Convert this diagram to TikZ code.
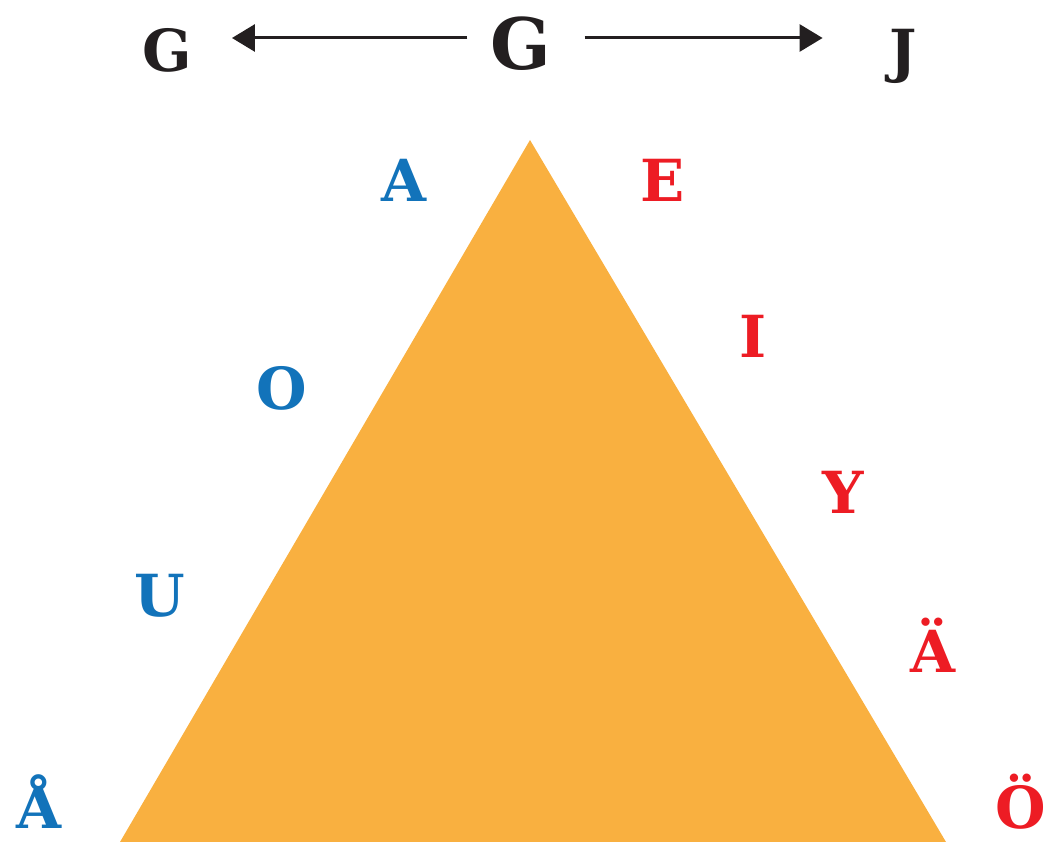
\documentclass[tikz,border=0pt]{standalone}
\usepackage{fontspec}
\setmainfont{DejaVu Serif}
\usetikzlibrary{arrows.meta}
\definecolor{tri}{RGB}{249,176,64}
\definecolor{vblue}{RGB}{18,115,186}
\definecolor{vred}{RGB}{237,28,36}
\definecolor{ink}{RGB}{35,31,32}
\begin{document}
\begin{tikzpicture}[x=1pt,y=-1pt,
  lt/.style={font=\fontsize{58}{58}\selectfont\bfseries, anchor=base, inner sep=0pt},
  big/.style={font=\fontsize{71}{71}\selectfont\bfseries},
  back/.style={lt, text=vblue},
  front/.style={lt, text=vred},
  arr/.style={draw=ink, line width=3pt, -{Triangle[length=23pt,width=27pt]}}
]
\useasboundingbox (0,0) rectangle (1048,842);
\fill[tri] (530,140) -- (946,842) -- (120,842) -- cycle;
% top row
\node[lt, text=ink] (gl) at (167,72) {G};
\node[lt, big, text=ink] (gc) at (521,70) {G};
\node[lt, text=ink] (j) at (903,72) {J};
\coordinate (ay) at (0,38);
\draw[arr, shorten <=23pt, shorten >=40pt] (gc.west |- ay) -- (gl.east |- ay);
\draw[arr, shorten <=33pt, shorten >=66.5pt] (gc.east |- ay) -- (j.west |- ay);
% back vowels
\node[back] (va) at (404,202) {A};
\node[back] (vo) at (282,409) {O};
\node[back] (vu) at (160,616) {U};
\node[back] (vaa) at (39,828) {Å};
% front vowels
\node[front] (ve) at (663,202) {E};
\node[front] (vi) at (753,357) {I};
\node[front] (vy) at (843,513) {Y};
\node[front] (vae) at (933,672) {Ä};
\node[front] (voe) at (1021,828) {Ö};
\end{tikzpicture}
\end{document}
